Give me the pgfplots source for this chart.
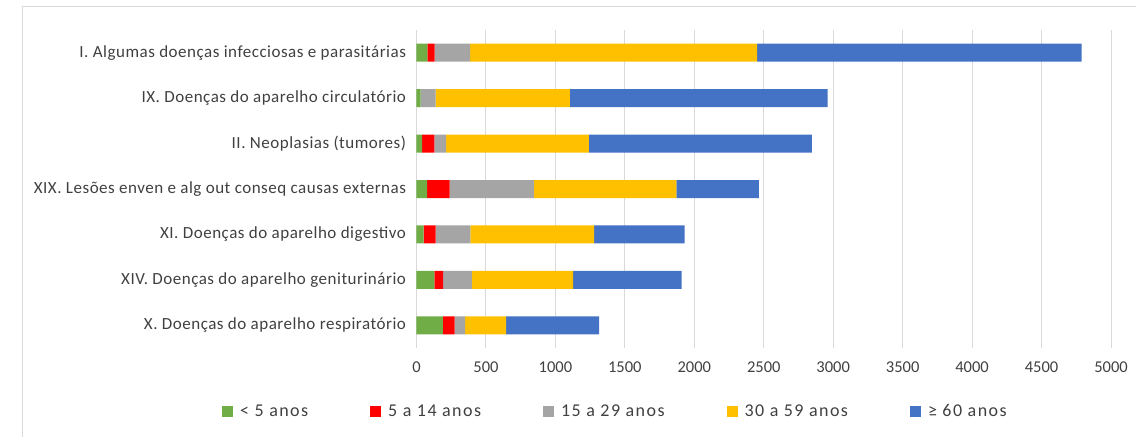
\documentclass[border=0pt]{standalone}
\usepackage{fontspec}
\setmainfont{Carlito}
\newfontfamily\catfont[LetterSpace=3]{Carlito}
\newfontfamily\legfont[LetterSpace=8]{Carlito}
\usepackage{pgfplots}
\pgfplotsset{compat=1.18}
\definecolor{cgreen}{HTML}{70AD47}
\definecolor{cred}{HTML}{FF0000}
\definecolor{cgray}{HTML}{A5A5A5}
\definecolor{cyellow}{HTML}{FFC000}
\definecolor{cblue}{HTML}{4472C4}
\definecolor{cgrid}{HTML}{D9D9D9}
\definecolor{ctext}{HTML}{404040}
\begin{document}
\begin{tikzpicture}[x=1pt,y=1pt]
\useasboundingbox (0,0) rectangle (1136,437);
\draw[cgrid, line width=1pt] (22,0) -- (22,430) -- (1136,430);
\begin{axis}[
  at={(416.5pt,89pt)}, anchor=south west,
  scale only axis, width=694.5pt, height=318pt,
  xbar stacked, bar width=18pt,
  xmin=0, xmax=5000, ymin=-0.5, ymax=6.5,
  xtick distance=500,
  ytick={0,1,2,3,4,5,6},
  yticklabels={X. Doenças do aparelho respiratório,
    XIV. Doenças do aparelho geniturinário,
    XI. Doenças do aparelho digestivo,
    XIX. Lesões enven e alg out conseq causas externas,
    II. Neoplasias (tumores),
    IX. Doenças do aparelho circulatório,
    I. Algumas doenças infecciosas e parasitárias},
  axis line style={draw=none},
  major tick length=0pt,
  xmajorgrids, major grid style={cgrid, line width=1pt},
  /pgf/number format/assume math mode=true,
  /pgf/number format/1000 sep={},
  xticklabel style={font=\fontsize{16.5}{18}\selectfont, text=ctext, yshift=-10pt},
  yticklabel style={font=\catfont\fontsize{17}{19}\selectfont, text=ctext, xshift=-7pt},
  legend columns=5,
  legend style={at={(-0.2844,-0.199)}, anchor=west, draw=none, fill=none,
    font=\legfont\fontsize{18}{20}\selectfont, text=ctext,
    /tikz/every odd column/.append style={column sep=5pt},
    /tikz/every even column/.append style={column sep=60pt}},
  legend image code/.code={\fill[#1] (0pt,-5.5pt) rectangle (11pt,5.5pt);},
]
\addplot[fill=cgreen, draw=none] coordinates {(189,0) (128,1) (52,2) (76,3) (40,4) (30,5) (78,6)};
\addplot[fill=cred, draw=none] coordinates {(86,0) (63,1) (86,2) (163,3) (88,4) (0,5) (53,6)};
\addplot[fill=cgray, draw=none] coordinates {(75,0) (207,1) (250,2) (606,3) (85,4) (108,5) (255,6)};
\addplot[fill=cyellow, draw=none] coordinates {(295,0) (730,1) (890,2) (1026,3) (1028,4) (966,5) (2067,6)};
\addplot[fill=cblue, draw=none] coordinates {(669,0) (781,1) (653,2) (594,3) (1605,4) (1856,5) (2336,6)};
\legend{< 5 anos, 5 a 14 anos, 15 a 29 anos, 30 a 59 anos, ≥ 60 anos}
\end{axis}
\end{tikzpicture}
\end{document}
